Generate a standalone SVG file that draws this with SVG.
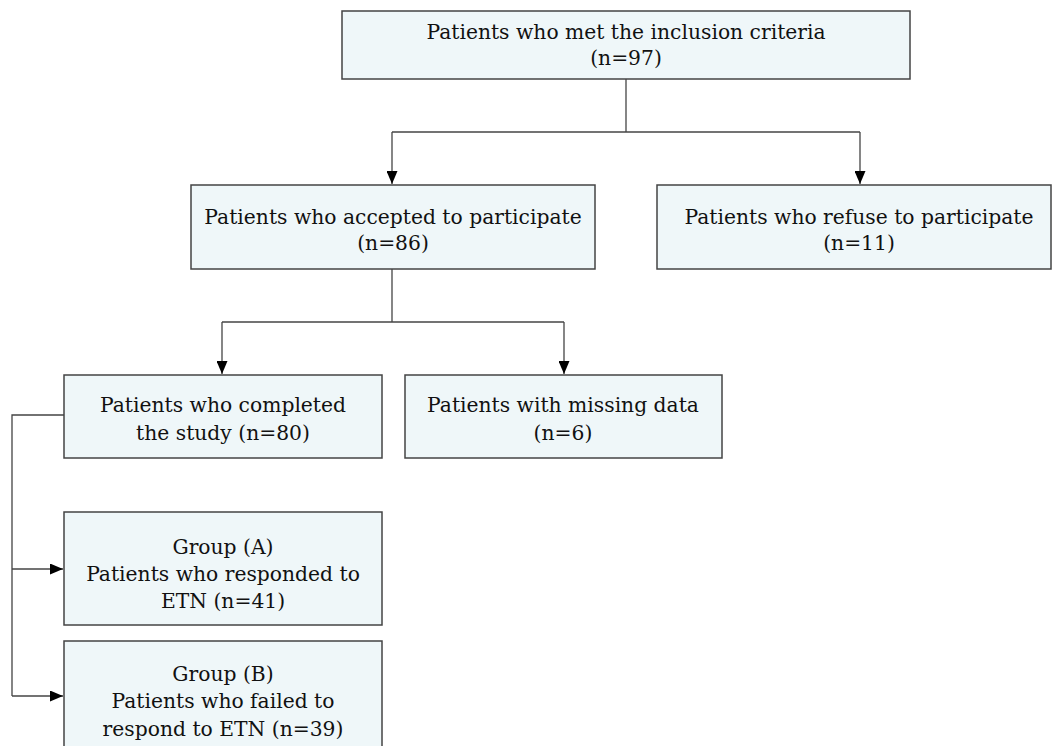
<svg xmlns="http://www.w3.org/2000/svg" width="1052" height="746" viewBox="0 0 1052 746">
<style>
.box{fill:#eff7f9;stroke:#444;stroke-width:1.5}
.t{font-family:"DejaVu Serif","Liberation Serif",serif;font-size:20.3px;fill:#111;text-anchor:middle}
.c{fill:none;stroke:#444;stroke-width:1.3}
</style>
<defs>
<marker id="ah" markerWidth="13" markerHeight="11" refX="13" refY="5.5" orient="auto" markerUnits="userSpaceOnUse">
<path d="M0,0 L13,5.5 L0,11 Z" fill="#000"/>
</marker>
</defs>
<rect width="1052" height="746" fill="#fff"/>
<g id="connectors">
<path class="c" d="M626,79 V132"/>
<path class="c" d="M392,132 H860"/>
<path class="c" d="M392,132 V184" marker-end="url(#ah)"/>
<path class="c" d="M860,132 V184" marker-end="url(#ah)"/>
<path class="c" d="M392,269 V322"/>
<path class="c" d="M222,322 H564"/>
<path class="c" d="M222,322 V374" marker-end="url(#ah)"/>
<path class="c" d="M564,322 V374" marker-end="url(#ah)"/>
<path class="c" d="M64,415 H12 V696"/>
<path class="c" d="M12,569 H63" marker-end="url(#ah)"/>
<path class="c" d="M12,696 H63" marker-end="url(#ah)"/>
</g>
<g id="n1">
<rect class="box" x="342" y="11" width="568" height="68"/>
<text class="t" x="626" y="39">Patients who met the inclusion criteria</text>
<text class="t" x="626" y="65">(n=97)</text>
</g>
<g id="n2">
<rect class="box" x="191" y="185" width="404" height="84"/>
<text class="t" x="393" y="224">Patients who accepted to participate</text>
<text class="t" x="393" y="250">(n=86)</text>
</g>
<g id="n3">
<rect class="box" x="657" y="185" width="394" height="84"/>
<text class="t" x="859" y="224">Patients who refuse to participate</text>
<text class="t" x="859" y="250">(n=11)</text>
</g>
<g id="n4">
<rect class="box" x="64" y="375" width="318" height="83"/>
<text class="t" x="223" y="412">Patients who completed</text>
<text class="t" x="223" y="440">the study (n=80)</text>
</g>
<g id="n5">
<rect class="box" x="405" y="375" width="317" height="83"/>
<text class="t" x="563" y="412">Patients with missing data</text>
<text class="t" x="563" y="440">(n=6)</text>
</g>
<g id="n6">
<rect class="box" x="64" y="512" width="318" height="113"/>
<text class="t" x="223" y="554">Group (A)</text>
<text class="t" x="223" y="581">Patients who responded to</text>
<text class="t" x="223" y="608">ETN (n=41)</text>
</g>
<g id="n7">
<rect class="box" x="64" y="641" width="318" height="115"/>
<text class="t" x="223" y="681">Group (B)</text>
<text class="t" x="223" y="708">Patients who failed to</text>
<text class="t" x="223" y="736">respond to ETN (n=39)</text>
</g>
</svg>
